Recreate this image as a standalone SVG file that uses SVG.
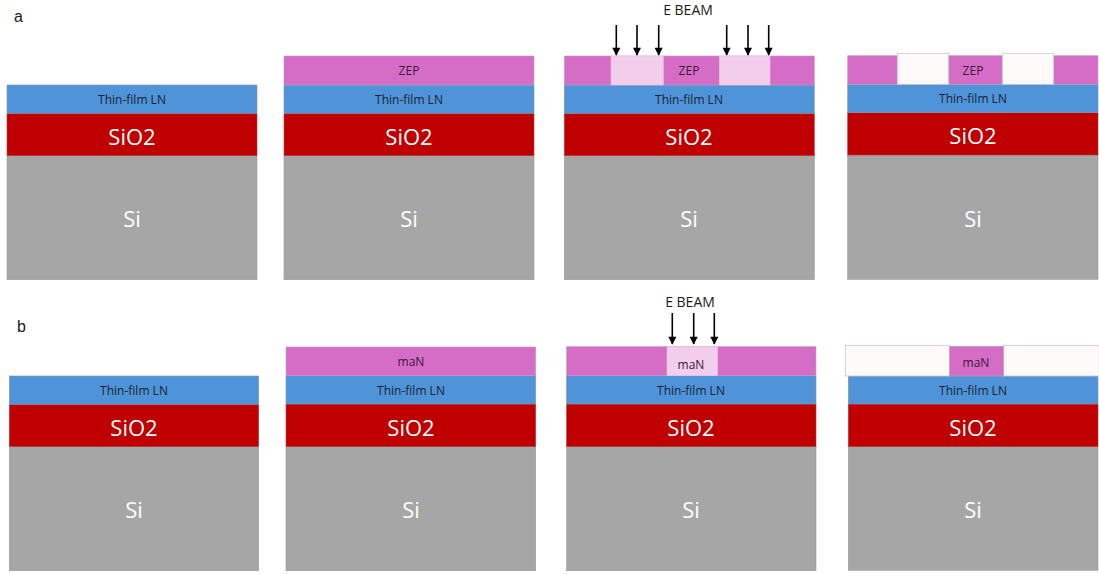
<svg xmlns="http://www.w3.org/2000/svg" width="1099" height="574" viewBox="0 0 1099 574">
  <style>
    .si   { fill: #a6a6a6; stroke: #9a9a9a; stroke-width: 0.6; }
    .ox   { fill: #c00000; stroke: #b04040; stroke-width: 0.6; }
    .ln   { fill: #4f94d8; stroke: #8a8fa8; stroke-width: 0.6; }
    .rs   { fill: #d56dc7; stroke: #b9a0c0; stroke-width: 0.6; }
    .exp  { fill: #f2cdec; stroke: #e6c3e0; stroke-width: 0.6; }
    .open { fill: #fffafa; stroke: #c8c8c8; stroke-width: 0.8; }
    .big  { font-family: "Open Sans", "Noto Sans", sans-serif; font-size: 22px; fill: #ffffff; text-anchor: middle; }
    .sm   { font-family: "Open Sans", "Noto Sans", sans-serif; font-size: 12px; fill: #1c1f33; text-anchor: middle; }
    .rsl  { font-family: "Open Sans", "Noto Sans", sans-serif; font-size: 12px; fill: #3b1838; text-anchor: middle; }
    .beam { font-family: "Open Sans", "Noto Sans", sans-serif; font-size: 14px; fill: #1a1a1a; text-anchor: middle; }
    .tag  { font-family: "Liberation Sans", Arial, sans-serif; font-size: 16px; fill: #1a1a1a; }
    .arw  { stroke: #000000; stroke-width: 1.6; fill: none; marker-end: url(#head); }
  </style>
  <defs>
    <marker id="head" viewBox="0 0 10 10" refX="9" refY="5" markerWidth="5.5" markerHeight="5" orient="auto" markerUnits="strokeWidth">
      <path d="M0,0 L10,5 L0,10 z" fill="#000000"/>
    </marker>
  </defs>

  <rect width="1099" height="574" fill="#ffffff"/>

  <text class="tag" x="14" y="22">a</text>
  <text class="tag" x="17" y="332">b</text>

  <!-- Row a: ZEP process -->
  <g id="a1">
    <rect class="si" x="7" y="155.7" width="250" height="124"/>
    <rect class="ox" x="7" y="113.3" width="250" height="42.4"/>
    <rect class="ln" x="7" y="85" width="250" height="28.3"/>
    <text class="sm" x="132" y="103.5">Thin-film LN</text>
    <text class="big" x="132" y="144.5">SiO2</text>
    <text class="big" x="132" y="227">Si</text>
  </g>

  <g id="a2">
    <rect class="si" x="284" y="155.7" width="250" height="124"/>
    <rect class="ox" x="284" y="113.3" width="250" height="42.4"/>
    <rect class="ln" x="284" y="85" width="250" height="28.3"/>
    <rect class="rs" x="284" y="56" width="250" height="29"/>
    <text class="rsl" x="409" y="75">ZEP</text>
    <text class="sm" x="409" y="103.5">Thin-film LN</text>
    <text class="big" x="409" y="144.5">SiO2</text>
    <text class="big" x="409" y="227">Si</text>
  </g>

  <g id="a3">
    <rect class="si" x="564.3" y="155.7" width="250" height="124"/>
    <rect class="ox" x="564.3" y="113.3" width="250" height="42.4"/>
    <rect class="ln" x="564.3" y="85" width="250" height="28.3"/>
    <rect class="rs" x="564.3" y="56" width="250" height="29"/>
    <rect class="exp" x="611" y="56" width="52.3" height="29"/>
    <rect class="exp" x="719.3" y="56" width="50.7" height="29"/>
    <text class="rsl" x="689" y="75">ZEP</text>
    <text class="sm" x="689" y="103.5">Thin-film LN</text>
    <text class="big" x="689" y="144.5">SiO2</text>
    <text class="big" x="689" y="227">Si</text>
    <text class="beam" x="688" y="14.5">E BEAM</text>
  </g>

  <g id="a4">
    <rect class="si" x="847.7" y="155" width="250.3" height="124.3"/>
    <rect class="ox" x="847.7" y="112.7" width="250.3" height="42.3"/>
    <rect class="ln" x="847.7" y="84.3" width="250.3" height="28.4"/>
    <rect class="rs" x="847.7" y="55.7" width="250.3" height="28.6"/>
    <rect class="open" x="897.3" y="53.3" width="51.4" height="31"/>
    <rect class="open" x="1002.3" y="53.3" width="51.4" height="31"/>
    <text class="rsl" x="973" y="75">ZEP</text>
    <text class="sm" x="973" y="103">Thin-film LN</text>
    <text class="big" x="973" y="143.5">SiO2</text>
    <text class="big" x="973" y="227">Si</text>
  </g>

  <!-- Row b: maN process -->
  <g id="b1">
    <rect class="si" x="9.3" y="446.7" width="249.4" height="124"/>
    <rect class="ox" x="9.3" y="404.3" width="249.4" height="42.4"/>
    <rect class="ln" x="9.3" y="376" width="249.4" height="28.3"/>
    <text class="sm" x="134" y="394.5">Thin-film LN</text>
    <text class="big" x="134" y="435.5">SiO2</text>
    <text class="big" x="134" y="518">Si</text>
  </g>

  <g id="b2">
    <rect class="si" x="286" y="446.7" width="249.7" height="124"/>
    <rect class="ox" x="286" y="404" width="249.7" height="42.7"/>
    <rect class="ln" x="286" y="375.7" width="249.7" height="28.3"/>
    <rect class="rs" x="286" y="347" width="249.7" height="28.7"/>
    <text class="rsl" x="411" y="366">maN</text>
    <text class="sm" x="411" y="394.5">Thin-film LN</text>
    <text class="big" x="411" y="435.5">SiO2</text>
    <text class="big" x="411" y="518">Si</text>
  </g>

  <g id="b3">
    <rect class="si" x="566.6" y="446.7" width="249.4" height="124"/>
    <rect class="ox" x="566.6" y="404" width="249.4" height="42.7"/>
    <rect class="ln" x="566.6" y="375.7" width="249.4" height="28.3"/>
    <rect class="rs" x="566.6" y="346.7" width="249.4" height="29"/>
    <rect class="exp" x="667" y="346.7" width="50.7" height="29"/>
    <text class="rsl" x="691" y="368.5">maN</text>
    <text class="sm" x="691" y="394.5">Thin-film LN</text>
    <text class="big" x="691" y="435.5">SiO2</text>
    <text class="big" x="691" y="518">Si</text>
    <text class="beam" x="690" y="307">E BEAM</text>
  </g>

  <g id="b4">
    <rect class="si" x="848.3" y="446.7" width="249.7" height="123.6"/>
    <rect class="ox" x="848.3" y="404" width="249.7" height="42.7"/>
    <rect class="ln" x="848.3" y="376" width="249.7" height="28"/>
    <rect class="open" x="845.3" y="345.3" width="104.4" height="30.7"/>
    <rect class="open" x="1003.3" y="345.3" width="96" height="30.7"/>
    <rect class="rs" x="949.7" y="346.3" width="53.6" height="29.7"/>
    <text class="rsl" x="976" y="366.5">maN</text>
    <text class="sm" x="973" y="394.5">Thin-film LN</text>
    <text class="big" x="973" y="435.5">SiO2</text>
    <text class="big" x="973" y="518">Si</text>
  </g>

  <!-- Electron-beam exposure arrows -->
  <g id="connectors">
    <line class="arw" x1="616.3" y1="25" x2="616.3" y2="55"/>
    <line class="arw" x1="637" y1="25" x2="637" y2="55"/>
    <line class="arw" x1="658.7" y1="25" x2="658.7" y2="55"/>
    <line class="arw" x1="726.7" y1="25" x2="726.7" y2="55"/>
    <line class="arw" x1="748" y1="25" x2="748" y2="55"/>
    <line class="arw" x1="768.7" y1="25" x2="768.7" y2="55"/>
    <line class="arw" x1="672.3" y1="313" x2="672.3" y2="344"/>
    <line class="arw" x1="693.7" y1="313" x2="693.7" y2="344"/>
    <line class="arw" x1="714.3" y1="313" x2="714.3" y2="344"/>
  </g>
</svg>
